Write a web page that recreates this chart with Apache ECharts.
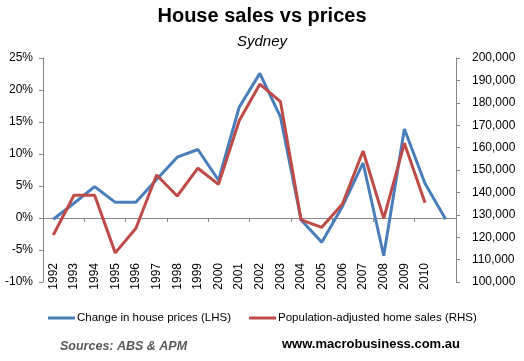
<!DOCTYPE html>
<html>
<head>
<meta charset="utf-8">
<script src="https://cdn.jsdelivr.net/npm/echarts@6/dist/echarts.min.js"></script>
<style>html,body{margin:0;padding:0;background:#fff}#c{width:524px;height:361px}</style>
</head>
<body>
<div id="c"></div>
<script>
var categories = ['1992','1993','1994','1995','1996','1997','1998','1999','2000','2001','2002','2003','2004','2005','2006','2007','2008','2009','2010',''];
var priceChange = [-0.2, 2.3, 4.9, 2.45, 2.45, 6.0, 9.5, 10.7, 5.9, 17.3, 22.6, 15.8, -0.3, -3.8, 1.8, 8.6, -5.9, 13.9, 5.4, -0.2];
var homeSales = [121000, 138700, 138700, 113000, 124000, 147800, 138400, 150800, 143600, 172000, 188300, 180500, 127700, 124400, 134800, 158500, 128400, 161900, 135400, null];
var leftTicks = {min: -10, max: 25, interval: 5};
var rightTicks = {min: 100000, max: 200000, interval: 10000};

var FONT = 'Liberation Sans';
var axisGray = '#868686';
var chart = echarts.init(document.getElementById('c'), null, {renderer: 'canvas'});
chart.setOption({
  animation: false,
  textStyle: {fontFamily: FONT},
  title: {
    text: 'House sales vs prices',
    subtext: 'Sydney',
    left: 'center',
    top: 1,
    itemGap: 8,
    textStyle: {fontFamily: FONT, fontSize: 20, fontWeight: 'bold', color: '#000'},
    subtextStyle: {fontFamily: FONT, fontSize: 15, fontStyle: 'italic', color: '#000'}
  },
  grid: {left: 43, right: 68, top: 58, bottom: 79},
  legend: {
    left: 43, top: 307,
    width: 479,
    itemGap: 18,
    itemWidth: 27, itemHeight: 3,
    icon: 'rect',
    textStyle: {fontFamily: FONT, fontSize: 11.5, color: '#000', padding: [0,0,0,-3]},
    data: ['Change in house prices (LHS)', 'Population-adjusted home sales (RHS)']
  },
  xAxis: [{
    type: 'category',
    data: categories,
    boundaryGap: true,
    axisLine: {onZero: true, lineStyle: {color: axisGray, width: 1}},
    axisTick: {show: true, length: 4, lineStyle: {color: axisGray}},
    axisLabel: {show: false},
    splitLine: {show: false}
  }, {
    type: 'category',
    data: categories,
    position: 'bottom',
    boundaryGap: true,
    axisLine: {show: false, onZero: false},
    axisTick: {show: false},
    axisLabel: {rotate: 90, margin: -19, fontSize: 12, color: '#000', fontFamily: FONT, interval: 0},
    splitLine: {show: false}
  }],
  yAxis: [{
    type: 'value',
    min: leftTicks.min, max: leftTicks.max, interval: leftTicks.interval,
    axisLine: {show: true, lineStyle: {color: axisGray}},
    axisTick: {show: true, length: 4, lineStyle: {color: axisGray}},
    axisLabel: {formatter: '{value}%', fontSize: 12, color: '#000', margin: 10, fontFamily: FONT},
    splitLine: {show: false}
  }, {
    type: 'value',
    position: 'right',
    min: rightTicks.min, max: rightTicks.max, interval: rightTicks.interval,
    axisLine: {show: true, lineStyle: {color: axisGray}},
    axisTick: {show: true, length: 4, lineStyle: {color: axisGray}},
    axisLabel: {
      formatter: function (v) { return v.toLocaleString('en-US'); },
      fontSize: 12, color: '#000', margin: 16, fontFamily: FONT
    },
    splitLine: {show: false}
  }],
  series: [{
    name: 'Change in house prices (LHS)',
    type: 'line',
    xAxisIndex: 0, yAxisIndex: 0,
    data: priceChange,
    showSymbol: false,
    symbol: 'none',
    lineStyle: {color: '#4A7EBB', width: 3},
    itemStyle: {color: '#4A7EBB'}
  }, {
    name: 'Population-adjusted home sales (RHS)',
    type: 'line',
    xAxisIndex: 0, yAxisIndex: 1,
    data: homeSales,
    showSymbol: false,
    symbol: 'none',
    lineStyle: {color: '#BE4B48', width: 3},
    itemStyle: {color: '#BE4B48'}
  }],
  graphic: [{
    type: 'text', left: 60, top: 340,
    style: {text: 'Sources: ABS & APM', font: 'italic bold 12.5px "Liberation Sans"', fill: '#595959'}
  }, {
    type: 'text', left: 282, top: 338,
    style: {text: 'www.macrobusiness.com.au', font: 'bold 13px "Liberation Sans"', fill: '#000'}
  }]
});
</script>
</body>
</html>
